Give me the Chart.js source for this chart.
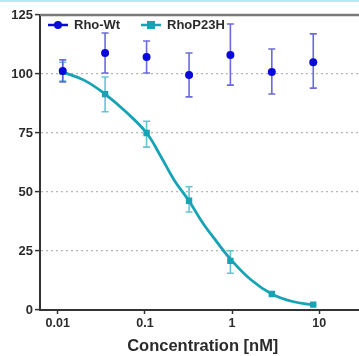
<!DOCTYPE html>
<html>
<head>
<meta charset="utf-8">
<script src="https://cdn.jsdelivr.net/npm/chart.js@4"></script>
<style>
    html, body { margin: 0; padding: 0; background: #fff; overflow: hidden; }
    #top-strip { position: absolute; left: 0; top: 0; width: 359px; height: 2px; background: #b4eaf2; }
    #dose-chart { position: absolute; left: 0; top: 0; }
</style>
</head>
<body>
<canvas id="dose-chart" width="370" height="356"></canvas>
<div id="top-strip"></div>
<script>
// Concentrations (nM) of the measured points
const concentration = [0.0114, 0.0349, 0.1045, 0.321, 0.957, 2.86, 8.55];

// Rho-Wt mean and error bar ends (%)
const wtMean = [101.3, 108.9, 107.2, 99.6, 108.0, 100.8, 105.0];
const wtLow = [96.6, 100.4, 100.4, 90.3, 95.3, 91.5, 94.0];
const wtHigh = [106.0, 117.4, 114.0, 108.9, 121.2, 110.6, 117.0];

// RhoP23H mean and error bar ends (%)
const p23Mean = [101.0, 91.5, 75.0, 46.3, 20.8, 6.8, 2.3];
const p23Low = [97.0, 84.0, 69.0, 41.5, 15.6, 6.8, 2.3];
const p23High = [105.0, 98.7, 80.0, 52.2, 25.1, 6.8, 2.3];

// Fitted curve for RhoP23H
const curveX = [0.0114, 0.0202, 0.0349, 0.0604, 0.1045, 0.150, 0.217, 0.321, 0.461, 0.665, 0.957, 1.66, 2.86, 4.95, 8.55];
const curveY = [100.8, 97.3, 91.5, 84.0, 75.0, 65.5, 55.0, 46.2, 36.9, 29.0, 21.6, 12.7, 6.8, 3.6, 2.1];

// Axis ticks
const xTicks = [0.01, 0.1, 1, 10];
const xTickLabels = ["0.01", "0.1", "1", "10"];
const yTicks = [0, 25, 50, 75, 100, 125];

const WT_COLOR = "#0a0ad8";
const WT_BAR = "rgba(80, 80, 215, 0.85)";
const P23_COLOR = "#15a3b5";
const P23_BAR = "rgba(85, 190, 205, 0.9)";
const FONT = "'Liberation Sans', Arial, sans-serif";

const toPoints = (xs, ys) => xs.map((x, i) => ({x: x, y: ys[i]}));

// Error bars, drawn under the markers
const errorBars = {
    id: "errorBars",
    beforeDatasetsDraw(chart) {
        const ctx = chart.ctx;
        const xs = chart.scales.x, ys = chart.scales.y;
        const sets = [[p23Low, p23High, P23_BAR], [wtLow, wtHigh, WT_BAR]];
        ctx.save();
        ctx.lineWidth = 1.6;
        sets.forEach(([low, high, color]) => {
            ctx.strokeStyle = color;
            concentration.forEach((c, i) => {
                if (high[i] - low[i] < 1) return;
                const px = xs.getPixelForValue(c);
                const top = ys.getPixelForValue(high[i]);
                const bot = ys.getPixelForValue(low[i]);
                ctx.beginPath();
                ctx.moveTo(px, top); ctx.lineTo(px, bot);
                ctx.moveTo(px - 3.5, top); ctx.lineTo(px + 3.5, top);
                ctx.moveTo(px - 3.5, bot); ctx.lineTo(px + 3.5, bot);
                ctx.stroke();
            });
        });
        ctx.restore();
    }
};

// Top frame line and the in-plot legend
const frameAndLegend = {
    id: "frameAndLegend",
    afterDraw(chart) {
        const ctx = chart.ctx;
        const area = chart.chartArea;
        ctx.save();
        ctx.strokeStyle = "#7a7a7a";
        ctx.lineWidth = 2.5;
        ctx.beginPath();
        ctx.moveTo(area.left, area.top);
        ctx.lineTo(area.right, area.top);
        ctx.stroke();

        const y = area.top + 10;
        const items = [
            {x: area.left + 8, label: chart.data.datasets[0].label, color: WT_COLOR, shape: "circle"},
            {x: area.left + 101, label: chart.data.datasets[1].label, color: P23_COLOR, shape: "rect"},
        ];
        ctx.font = "bold 13px " + FONT;
        ctx.textBaseline = "middle";
        ctx.textAlign = "left";
        items.forEach(item => {
            ctx.strokeStyle = item.color;
            ctx.fillStyle = item.color;
            ctx.lineWidth = 2.5;
            ctx.beginPath();
            ctx.moveTo(item.x, y);
            ctx.lineTo(item.x + 20, y);
            ctx.stroke();
            ctx.beginPath();
            if (item.shape === "circle") {
                ctx.arc(item.x + 10, y, 4, 0, Math.PI * 2);
            } else {
                ctx.rect(item.x + 6, y - 4, 8, 8);
            }
            ctx.fill();
            ctx.fillStyle = "#2b2b2b";
            ctx.fillText(item.label, item.x + 26, y + 0.5);
        });
        ctx.restore();
    }
};

const ctx = document.getElementById("dose-chart").getContext("2d");
const chart = new Chart(ctx, {
    type: "line",
    data: {
        datasets: [{
            label: "Rho-Wt",
            data: toPoints(concentration, wtMean),
            showLine: false,
            pointStyle: "circle",
            pointRadius: 4,
            backgroundColor: WT_COLOR,
            borderColor: WT_COLOR,
            borderWidth: 0,
            order: 0,
        }, {
            label: "RhoP23H",
            data: toPoints(concentration, p23Mean),
            showLine: false,
            pointStyle: "rect",
            pointRadius: 4.5,
            backgroundColor: P23_COLOR,
            borderColor: P23_COLOR,
            borderWidth: 0,
            order: 1,
        }, {
            label: "RhoP23H fit",
            data: toPoints(curveX, curveY),
            borderColor: P23_COLOR,
            borderWidth: 2.8,
            pointRadius: 0,
            tension: 0.4,
            fill: false,
            order: 2,
        }]
    },
    options: {
        responsive: false,
        animation: false,
        devicePixelRatio: 1,
        layout: {padding: {top: 15, left: 0, right: 0, bottom: 0}},
        plugins: {
            legend: {display: false},
            tooltip: {enabled: false},
        },
        scales: {
            x: {
                type: "logarithmic",
                min: 0.00625,
                max: 34,
                afterBuildTicks: (axis) => {
                    axis.ticks = xTicks.map(v => ({value: v, major: true}));
                },
                afterFit: (axis) => { axis.height = 46; },
                ticks: {
                    autoSkip: false,
                    maxRotation: 0,
                    padding: 2,
                    color: "#2b2b2b",
                    font: {family: FONT, size: 12.5, weight: "bold"},
                    callback: (value) => xTickLabels[xTicks.indexOf(value)] || "",
                },
                grid: {
                    drawOnChartArea: false,
                    drawTicks: true,
                    tickLength: 4,
                    tickColor: "#333",
                    tickWidth: 1.5,
                },
                border: {color: "#333", width: 2},
                title: {
                    display: true,
                    text: "Concentration [nM]",
                    color: "#2b2b2b",
                    padding: {top: 0, bottom: 0},
                    font: {family: FONT, size: 16.5, weight: "bold"},
                },
            },
            y: {
                min: 0,
                max: 125,
                afterBuildTicks: (axis) => {
                    axis.ticks = yTicks.map(v => ({value: v}));
                },
                afterFit: (axis) => { axis.width = 40; },
                ticks: {
                    padding: 2,
                    color: "#2b2b2b",
                    font: {family: FONT, size: 13, weight: "bold"},
                },
                grid: {
                    color: (c) => (c.tick && (c.tick.value === 0 || c.tick.value === 125)) ? "rgba(0,0,0,0)" : "#b5b5b5",
                    lineWidth: 1.2,
                    drawTicks: true,
                    tickLength: 5,
                    tickColor: "#333",
                    tickWidth: 1.5,
                },
                border: {color: "#333", width: 2, dash: [2, 3]},
            },
        },
    },
    plugins: [errorBars, frameAndLegend],
});
</script>
</body>
</html>
